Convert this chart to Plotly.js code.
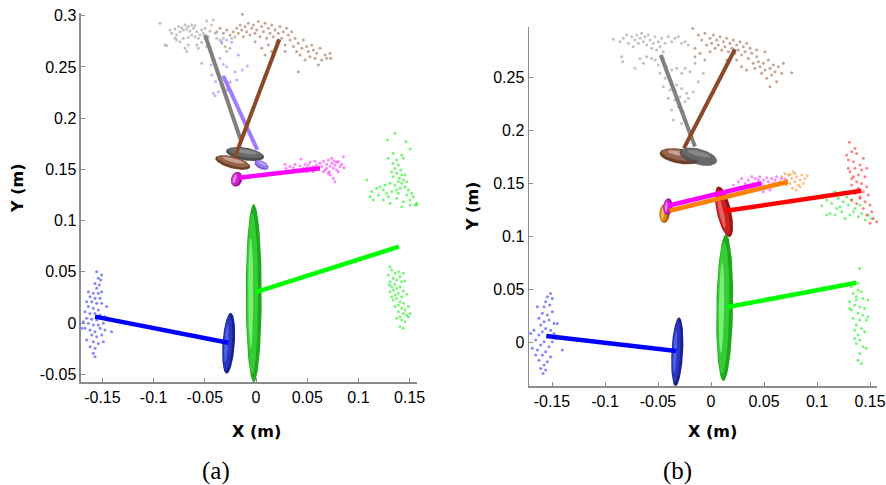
<!DOCTYPE html>
<html><head><meta charset="utf-8">
<script src="https://cdn.plot.ly/plotly-3.0.1.min.js"></script>
<style>html,body{margin:0;padding:0;background:#fff}</style>
</head><body><div id="chart" style="width:886px;height:485px"></div>
<script>
// ---------- DATA (metres) ----------
const xTickVals = [-0.15,-0.1,-0.05,0,0.05,0.1,0.15];
const xTickText = ['-0.15','-0.1','-0.05','0','0.05','0.1','0.15'];
const yTickValsA = [-0.05,0,0.05,0.1,0.15,0.2,0.25,0.3];
const yTickTextA = ['-0.05','0','0.05','0.1','0.15','0.2','0.25','0.3'];
const yTickValsB = [0,0.05,0.1,0.15,0.2,0.25];
const yTickTextB = ['0','0.05','0.1','0.15','0.2','0.25'];

// panel (a) point clouds [x, y]
const grayA = [[-0.0938,0.2926],[-0.0872,0.2708],[-0.0840,0.2861],[-0.0824,0.2829],[-0.0791,0.2871],[-0.0775,0.2813],[-0.0758,0.2894],[-0.0742,0.2845],[-0.0726,0.2884],[-0.0710,0.2861],[-0.0693,0.2910],[-0.0677,0.2871],[-0.0661,0.2894],[-0.0645,0.2852],[-0.0628,0.2910],[-0.0612,0.2878],[-0.0596,0.2904],[-0.0579,0.2845],[-0.0563,0.2780],[-0.0547,0.2813],[-0.0531,0.2861],[-0.0514,0.2829],[-0.0498,0.2878],[-0.0482,0.2949],[-0.0465,0.2796],[-0.0449,0.2852],[-0.0433,0.2910],[-0.0417,0.2959],[-0.0400,0.2829],[-0.0710,0.2780],[-0.0693,0.2682],[-0.0677,0.2650],[-0.0661,0.2715],[-0.0742,0.2747],[-0.0775,0.2764],[-0.0579,0.2715],[-0.0563,0.2682],[-0.0531,0.2741],[-0.0498,0.2780],[-0.0482,0.2699],[-0.0384,0.2780],[-0.0352,0.2764],[-0.0335,0.2731],[-0.0303,0.2699],[-0.0286,0.2650],[-0.0238,0.2780],[-0.0205,0.2796],[-0.0254,0.2682],[-0.0319,0.2780],[-0.0628,0.2813],[-0.0596,0.2796],[-0.0661,0.2787],[-0.0531,0.2536],[-0.0791,0.2780],[-0.0889,0.2715]];
const brownA = [[-0.0384,0.2845],[-0.0352,0.2878],[-0.0319,0.2829],[-0.0286,0.2861],[-0.0254,0.2813],[-0.0221,0.2845],[-0.0189,0.2878],[-0.0173,0.2829],[-0.0156,0.2910],[-0.0140,0.2861],[-0.0124,0.2796],[-0.0107,0.2894],[-0.0091,0.2845],[-0.0075,0.2926],[-0.0059,0.2813],[-0.0042,0.2878],[-0.0026,0.2910],[-0.0010,0.2829],[0.0007,0.2861],[0.0023,0.2943],[0.0039,0.2796],[0.0055,0.2894],[0.0072,0.2845],[0.0088,0.2926],[0.0104,0.2780],[0.0120,0.2878],[0.0137,0.2829],[0.0153,0.2910],[0.0169,0.2796],[0.0186,0.2861],[0.0202,0.2747],[0.0218,0.2829],[0.0234,0.2894],[0.0251,0.2780],[0.0267,0.2845],[0.0283,0.2715],[0.0299,0.2878],[0.0316,0.2813],[0.0332,0.2764],[0.0348,0.2845],[0.0365,0.2699],[0.0381,0.2780],[0.0397,0.2650],[0.0413,0.2731],[0.0430,0.2617],[0.0446,0.2682],[0.0462,0.2764],[0.0479,0.2568],[0.0495,0.2699],[0.0511,0.2650],[0.0527,0.2601],[0.0544,0.2715],[0.0560,0.2666],[0.0576,0.2585],[0.0592,0.2633],[0.0609,0.2520],[0.0625,0.2682],[0.0641,0.2568],[0.0674,0.2617],[0.0690,0.2585],[0.0723,0.2633],[0.0729,0.2585],[-0.0133,0.3015],[0.0055,0.2682],[0.0120,0.2715],[0.0088,0.2617],[-0.0010,0.2747],[0.0153,0.2650],[0.0413,0.2454],[0.0283,0.2650]];
const purpleA = [[-0.0335,0.2747],[-0.0286,0.2764],[-0.0238,0.2741],[-0.0417,0.2568],[-0.0352,0.2585],[-0.0319,0.2526],[-0.0286,0.2503],[-0.0205,0.2454],[-0.0133,0.2471],[-0.0085,0.2510],[-0.0433,0.2422],[-0.0394,0.2357],[-0.0335,0.2318],[-0.0286,0.2275],[-0.0254,0.2350],[-0.0189,0.2373],[-0.0417,0.2243],[-0.0368,0.2259],[-0.0231,0.2233],[-0.0319,0.2406],[-0.0384,0.2471],[-0.0439,0.2520],[-0.0173,0.2617],[-0.0400,0.2220]];
const magentaA = [[0.0283,0.1549],[0.0293,0.1510],[0.0332,0.1527],[0.0365,0.1517],[0.0381,0.1549],[0.0397,0.1494],[0.0430,0.1536],[0.0439,0.1602],[0.0462,0.1510],[0.0479,0.1549],[0.0495,0.1517],[0.0511,0.1543],[0.0527,0.1569],[0.0544,0.1494],[0.0560,0.1527],[0.0576,0.1582],[0.0592,0.1543],[0.0609,0.1510],[0.0625,0.1559],[0.0641,0.1527],[0.0658,0.1576],[0.0674,0.1494],[0.0690,0.1549],[0.0706,0.1592],[0.0716,0.1478],[0.0723,0.1527],[0.0739,0.1559],[0.0755,0.1510],[0.0762,0.1582],[0.0771,0.1543],[0.0788,0.1494],[0.0804,0.1576],[0.0820,0.1527],[0.0837,0.1549],[0.0853,0.1624],[0.0859,0.1517],[0.0723,0.1445],[0.0755,0.1413],[0.0771,0.1380],[0.0706,0.1462],[0.0658,0.1478],[0.0788,0.1569],[0.0739,0.1608],[0.0690,0.1510],[0.0804,0.1478],[0.0560,0.1478],[0.0446,0.1484],[0.0495,0.1478]];
const greenUpA = [[0.1357,0.1852],[0.1283,0.1787],[0.1465,0.1771],[0.1504,0.1699],[0.1341,0.1657],[0.1423,0.1641],[0.1292,0.1608],[0.1374,0.1592],[0.1439,0.1608],[0.1335,0.1559],[0.1390,0.1543],[0.1357,0.1510],[0.1413,0.1494],[0.1374,0.1462],[0.1423,0.1445],[0.1341,0.1429],[0.1400,0.1413],[0.1439,0.1396],[0.1390,0.1380],[0.1423,0.1364],[0.1357,0.1348],[0.1309,0.1364],[0.1471,0.1380],[0.1260,0.1348],[0.1211,0.1331],[0.1178,0.1315],[0.1243,0.1299],[0.1130,0.1283],[0.1195,0.1250],[0.1276,0.1266],[0.1325,0.1283],[0.1374,0.1299],[0.1406,0.1315],[0.1455,0.1331],[0.1488,0.1299],[0.1520,0.1266],[0.1536,0.1234],[0.1569,0.1169],[0.1504,0.1201],[0.1439,0.1185],[0.1374,0.1217],[0.1309,0.1169],[0.1243,0.1201],[0.1146,0.1201],[0.1113,0.1234],[0.1081,0.1396],[0.1504,0.1152],[0.1553,0.1152],[0.1570,0.1152],[0.1471,0.1250],[0.1292,0.1234],[0.1423,0.1136],[0.1390,0.1266],[0.1455,0.1445],[0.1325,0.1478]];
const greenLowA = [[0.1309,0.0550],[0.1325,0.0518],[0.1292,0.0469],[0.1357,0.0485],[0.1390,0.0501],[0.1439,0.0485],[0.1341,0.0436],[0.1374,0.0420],[0.1406,0.0452],[0.1309,0.0404],[0.1357,0.0378],[0.1423,0.0404],[0.1455,0.0410],[0.1325,0.0355],[0.1374,0.0339],[0.1406,0.0355],[0.1341,0.0322],[0.1439,0.0313],[0.1390,0.0290],[0.1309,0.0306],[0.1357,0.0273],[0.1423,0.0257],[0.1471,0.0280],[0.1374,0.0241],[0.1341,0.0225],[0.1406,0.0208],[0.1439,0.0192],[0.1390,0.0176],[0.1357,0.0160],[0.1423,0.0143],[0.1455,0.0127],[0.1488,0.0160],[0.1390,0.0111],[0.1439,0.0094],[0.1406,0.0062],[0.1471,0.0078],[0.1374,0.0046],[0.1423,0.0029],[0.1455,0.0013],[0.1406,-0.0036],[0.1439,-0.0052],[0.1488,0.0062],[0.1504,0.0094],[0.1325,0.0257],[0.1302,0.0371]];
const blueA = [[-0.1556,0.0501],[-0.1507,0.0469],[-0.1540,0.0436],[-0.1517,0.0420],[-0.1572,0.0387],[-0.1530,0.0371],[-0.1556,0.0339],[-0.1637,0.0306],[-0.1589,0.0290],[-0.1540,0.0290],[-0.1507,0.0306],[-0.1621,0.0257],[-0.1572,0.0241],[-0.1523,0.0241],[-0.1654,0.0208],[-0.1605,0.0208],[-0.1556,0.0192],[-0.1507,0.0192],[-0.1458,0.0160],[-0.1637,0.0160],[-0.1589,0.0143],[-0.1540,0.0127],[-0.1670,0.0111],[-0.1621,0.0094],[-0.1572,0.0094],[-0.1523,0.0078],[-0.1475,0.0062],[-0.1654,0.0046],[-0.1605,0.0036],[-0.1556,0.0029],[-0.1442,0.0029],[-0.1686,0.0013],[-0.1637,-0.0003],[-0.1589,-0.0020],[-0.1540,-0.0020],[-0.1491,-0.0003],[-0.1410,-0.0085],[-0.1670,-0.0052],[-0.1621,-0.0068],[-0.1572,-0.0085],[-0.1523,-0.0052],[-0.1475,-0.0068],[-0.1605,-0.0117],[-0.1556,-0.0133],[-0.1507,-0.0117],[-0.1654,-0.0166],[-0.1589,-0.0182],[-0.1540,-0.0199],[-0.1621,-0.0231],[-0.1572,-0.0247],[-0.1589,-0.0296],[-0.1572,-0.0329],[-0.1491,-0.0182],[-0.1702,-0.0052]];

// panel (b) point clouds [x, y]
const grayB = [[-0.0921,0.2862],[-0.0858,0.2840],[-0.0827,0.2871],[-0.0796,0.2903],[-0.0780,0.2824],[-0.0748,0.2887],[-0.0733,0.2792],[-0.0717,0.2855],[-0.0701,0.2903],[-0.0686,0.2824],[-0.0670,0.2871],[-0.0654,0.2918],[-0.0638,0.2840],[-0.0623,0.2887],[-0.0607,0.2808],[-0.0591,0.2903],[-0.0575,0.2855],[-0.0560,0.2777],[-0.0544,0.2824],[-0.0528,0.2887],[-0.0513,0.2761],[-0.0497,0.2840],[-0.0481,0.2792],[-0.0465,0.2871],[-0.0450,0.2745],[-0.0434,0.2824],[-0.0403,0.2887],[-0.0371,0.2840],[-0.0340,0.2871],[-0.0308,0.2887],[-0.0277,0.2824],[-0.0245,0.2840],[-0.0214,0.2808],[-0.0843,0.2698],[-0.0833,0.2651],[-0.0717,0.2588],[-0.0670,0.2682],[-0.0607,0.2698],[-0.0560,0.2682],[-0.0638,0.2635],[-0.0528,0.2667],[-0.0497,0.2619],[-0.0450,0.2682],[-0.0418,0.2604],[-0.0481,0.2541],[-0.0434,0.2494],[-0.0371,0.2572],[-0.0324,0.2588],[-0.0277,0.2541],[-0.0245,0.2588],[-0.0198,0.2557],[-0.0151,0.2635],[-0.0072,0.2541],[-0.0450,0.2415],[-0.0387,0.2384],[-0.0324,0.2431],[-0.0277,0.2399],[-0.0230,0.2352],[-0.0167,0.2368],[-0.0119,0.2462],[-0.0403,0.2305],[-0.0340,0.2289],[-0.0292,0.2321],[-0.0245,0.2274],[-0.0371,0.2195],[-0.0308,0.2226],[-0.0261,0.2179],[-0.0355,0.2101],[-0.0277,0.2069],[-0.0214,0.2305]];
const brownB = [[-0.0173,0.2965],[-0.0119,0.2903],[-0.0088,0.2855],[-0.0057,0.2918],[-0.0041,0.2808],[-0.0009,0.2871],[0.0006,0.2824],[0.0022,0.2903],[0.0038,0.2777],[0.0053,0.2855],[0.0069,0.2808],[0.0085,0.2887],[0.0101,0.2761],[0.0116,0.2840],[0.0132,0.2792],[0.0148,0.2871],[0.0164,0.2745],[0.0179,0.2824],[0.0195,0.2777],[0.0211,0.2855],[0.0226,0.2730],[0.0242,0.2808],[0.0258,0.2761],[0.0274,0.2840],[0.0289,0.2714],[0.0305,0.2792],[0.0321,0.2745],[0.0336,0.2824],[0.0352,0.2682],[0.0368,0.2777],[0.0384,0.2730],[0.0399,0.2635],[0.0415,0.2588],[0.0431,0.2698],[0.0447,0.2651],[0.0462,0.2604],[0.0478,0.2541],[0.0494,0.2635],[0.0509,0.2572],[0.0525,0.2494],[0.0541,0.2667],[0.0557,0.2588],[0.0572,0.2525],[0.0588,0.2619],[0.0604,0.2557],[0.0619,0.2462],[0.0635,0.2604],[0.0667,0.2541],[0.0682,0.2635],[0.0761,0.2547],[0.0557,0.2415],[-0.0151,0.2698],[-0.0104,0.2730],[-0.0151,0.2777],[-0.0057,0.2667],[-0.0009,0.2745],[0.0289,0.2604],[0.0242,0.2667],[0.0336,0.2572],[0.0509,0.2745],[0.0431,0.2761],[0.0148,0.2667]];
const magentaB = [[0.0211,0.1487],[0.0258,0.1519],[0.0289,0.1550],[0.0321,0.1503],[0.0352,0.1535],[0.0384,0.1566],[0.0399,0.1503],[0.0415,0.1550],[0.0431,0.1487],[0.0447,0.1535],[0.0462,0.1566],[0.0478,0.1503],[0.0494,0.1535],[0.0509,0.1472],[0.0525,0.1557],[0.0541,0.1519],[0.0557,0.1487],[0.0572,0.1550],[0.0588,0.1503],[0.0604,0.1535],[0.0619,0.1566],[0.0635,0.1487],[0.0651,0.1519],[0.0667,0.1550],[0.0682,0.1503],[0.0462,0.1456],[0.0399,0.1456],[0.0557,0.1440],[0.0494,0.1425],[0.0698,0.1544],[0.0368,0.1472],[0.0305,0.1456]];
const orangeB = [[0.0667,0.1566],[0.0698,0.1597],[0.0714,0.1535],[0.0730,0.1582],[0.0745,0.1503],[0.0761,0.1550],[0.0777,0.1613],[0.0792,0.1519],[0.0808,0.1566],[0.0824,0.1487],[0.0840,0.1535],[0.0855,0.1582],[0.0871,0.1503],[0.0887,0.1550],[0.0909,0.1575],[0.0770,0.1456],[0.0802,0.1440],[0.0840,0.1472],[0.0714,0.1487],[0.0745,0.1588],[0.0792,0.1597]];
const redB = [[0.1305,0.1890],[0.1358,0.1833],[0.1327,0.1802],[0.1280,0.1770],[0.1374,0.1786],[0.1296,0.1723],[0.1343,0.1708],[0.1437,0.1739],[0.1406,0.1676],[0.1358,0.1645],[0.1311,0.1613],[0.1421,0.1629],[0.1390,0.1582],[0.1343,0.1566],[0.1453,0.1566],[0.1374,0.1519],[0.1421,0.1503],[0.1327,0.1487],[0.1469,0.1472],[0.1390,0.1456],[0.1437,0.1425],[0.1358,0.1409],[0.1484,0.1393],[0.1406,0.1362],[0.1453,0.1330],[0.1374,0.1314],[0.1500,0.1299],[0.1437,0.1267],[0.1516,0.1236],[0.1469,0.1204],[0.1531,0.1173],[0.1563,0.1142],[0.1500,0.1126],[0.1406,0.1377],[0.1327,0.1346],[0.1296,0.1645],[0.1469,0.1645],[0.1327,0.1550]];
const greenUpB = [[0.1044,0.1292],[0.1091,0.1346],[0.1138,0.1314],[0.1170,0.1425],[0.1201,0.1362],[0.1217,0.1283],[0.1248,0.1330],[0.1280,0.1377],[0.1296,0.1299],[0.1327,0.1346],[0.1358,0.1267],[0.1123,0.1220],[0.1170,0.1204],[0.1233,0.1236],[0.1264,0.1173],[0.1311,0.1204],[0.1343,0.1236],[0.1390,0.1189],[0.1421,0.1220],[0.1453,0.1157],[0.1484,0.1204],[0.1516,0.1173],[0.1406,0.1299],[0.1091,0.1204],[0.1186,0.1267],[0.1233,0.1409]];
const greenLowB = [[0.1403,0.0701],[0.1324,0.0528],[0.1387,0.0497],[0.1340,0.0465],[0.1371,0.0434],[0.1434,0.0418],[0.1308,0.0387],[0.1355,0.0355],[0.1403,0.0340],[0.1481,0.0403],[0.1324,0.0308],[0.1387,0.0277],[0.1434,0.0261],[0.1340,0.0230],[0.1403,0.0214],[0.1465,0.0214],[0.1371,0.0167],[0.1418,0.0135],[0.1355,0.0119],[0.1450,0.0104],[0.1387,0.0072],[0.1403,0.0025],[0.1371,-0.0006],[0.1434,-0.0038],[0.1465,-0.0053],[0.1403,-0.0101],[0.1387,-0.0164],[0.1418,-0.0195],[0.1308,0.0324],[0.1481,0.0245],[0.1450,0.0324],[0.1371,0.0403],[0.1418,0.0481],[0.1387,0.0560],[0.1355,0.0041]];
const blueB = [[-0.1513,0.0465],[-0.1544,0.0434],[-0.1497,0.0418],[-0.1560,0.0387],[-0.1522,0.0355],[-0.1575,0.0340],[-0.1638,0.0340],[-0.1497,0.0292],[-0.1591,0.0277],[-0.1544,0.0261],[-0.1623,0.0230],[-0.1528,0.0214],[-0.1575,0.0198],[-0.1481,0.0182],[-0.1607,0.0167],[-0.1450,0.0182],[-0.1560,0.0135],[-0.1670,0.0119],[-0.1591,0.0104],[-0.1513,0.0119],[-0.1701,0.0088],[-0.1623,0.0072],[-0.1544,0.0057],[-0.1465,0.0041],[-0.1654,0.0025],[-0.1575,0.0009],[-0.1497,0.0009],[-0.1607,-0.0022],[-0.1528,-0.0038],[-0.1686,-0.0053],[-0.1638,-0.0069],[-0.1560,-0.0085],[-0.1403,-0.0069],[-0.1591,-0.0116],[-0.1513,-0.0132],[-0.1623,-0.0164],[-0.1544,-0.0179],[-0.1575,-0.0211],[-0.1607,-0.0242],[-0.1560,-0.0258],[-0.1585,-0.0289],[-0.1654,-0.0116],[-0.1481,0.0088]];

// segments: names, start (x0,y0), end (x1,y1)
const segA_names = ['gray','purple','brown','magenta','blue','green'];
const segA_x0 = [-0.0498,-0.0319, 0.0228,-0.0160,-0.1572,-0.0010];
const segA_y0 = [ 0.2813, 0.2412, 0.2770, 0.1418, 0.0062, 0.0300];
const segA_x1 = [-0.0149, 0.0013,-0.0205, 0.0625,-0.0270, 0.1396];
const segA_y1 = [ 0.1787, 0.1690, 0.1624, 0.1511,-0.0192, 0.0745];
const segB_names = ['gray','brown','orange','magenta','red','blue','green'];
const segB_x0 = [-0.0474, 0.0226,-0.0390,-0.0406, 0.0129,-0.1554, 0.0145];
const segB_y0 = [ 0.2714, 0.2768, 0.1245, 0.1292, 0.1242, 0.0063, 0.0334];
const segB_x1 = [-0.0151,-0.0255, 0.0726, 0.0475, 0.1418,-0.0327, 0.1371];
const segB_y1 = [ 0.1850, 0.1835, 0.1519, 0.1504, 0.1434,-0.0078, 0.0566];

// uncertainty ellipses: centre, semi-axes, orientation (deg)
const ellA_names = ['gray','purple','brown','magenta','blue','green'];
const ellA_cx = [-0.0107, 0.0054,-0.0227,-0.0189,-0.0267,-0.0022];
const ellA_cy = [ 0.1650, 0.1543, 0.1567, 0.1404,-0.0198, 0.0291];
const ellA_a  = [ 0.0188, 0.0073, 0.0176, 0.0074, 0.0298, 0.0870];
const ellA_b  = [ 0.0062, 0.0040, 0.0058, 0.0054, 0.0060, 0.0078];
const ellA_ang= [ -10, -25, -15, 75, 86, 90];
const ellB_names = ['brown','gray','orange','magenta','red','blue','green'];
const ellB_cx = [-0.0297,-0.0120,-0.0437,-0.0406, 0.0123,-0.0318, 0.0129];
const ellB_cy = [ 0.1759, 0.1755, 0.1221, 0.1283, 0.1236,-0.0085, 0.0330];
const ellB_a  = [ 0.0190, 0.0182, 0.0092, 0.0079, 0.0244, 0.0325, 0.0692];
const ellB_b  = [ 0.0070, 0.0075, 0.0050, 0.0044, 0.0068, 0.0055, 0.0079];
const ellB_ang= [ -10, -15, 85, 85, 102.7, 87, 89];

// ---------- STYLE ----------
const lineColor = {gray:'#808080', purple:'#a07cff', brown:'#8a4a2a', magenta:'#ff00ff', blue:'#0000ff', green:'#00ff00', red:'#ff0000', orange:'#ff8000'};
const ptColor = {gray:'#9a9a9a', purple:'#9a7cff', brown:'#a06a4a', magenta:'#ff33ff', blue:'#3535ff', green:'#22ee22', red:'#ff3030', orange:'#ff9933'};
const ellShade = {
  gray:['#4e4e4e','#6a6a6a','#8c8c8c'], purple:['#7a58d0','#9a7ced','#bca8ff'],
  brown:['#6e4028','#956550','#c9a290'], magenta:['#a0108f','#cc22cc','#f07af0'],
  blue:['#18208e','#2a36c0','#5060e0'], green:['#1ea81e','#36cc36','#78f078'],
  red:['#a01414','#c82424','#e86060'], orange:['#b0600c','#d8841c','#f4b860']
};

function ellipsePts(cx, cy, a, b, angDeg){
  const t = angDeg*Math.PI/180, c = Math.cos(t), s = Math.sin(t);
  const xs = [], ys = [];
  for (let i = 0; i <= 80; i++){
    const u = i/80*2*Math.PI, ex = a*Math.cos(u), ey = b*Math.sin(u);
    xs.push(cx + ex*c - ey*s); ys.push(cy + ex*s + ey*c);
  }
  return [xs, ys];
}
function shadedEllipse(name, cx, cy, a, b, ang, xa, ya, op){
  const t = ang*Math.PI/180, nx = -Math.sin(t), ny = Math.cos(t);
  const layers = [[1,1,0,0],[0.9,0.72,0.18,1],[0.62,0.32,0.38,2]];
  return layers.map(([ka,kb,off,ci]) => {
    const [xs, ys] = ellipsePts(cx + off*b*nx, cy + off*b*ny, a*ka, b*kb, ang);
    return {type:'scatter', mode:'lines', x:xs, y:ys, xaxis:xa, yaxis:ya, fill:'toself',
      fillcolor: ellShade[name][ci], line:{width:0, color:ellShade[name][ci]}, opacity: op||1,
      hoverinfo:'skip', cliponaxis:true};
  });
}
function cloud(pts, name, xa, ya){
  return {type:'scatter', mode:'markers', x:pts.map(p=>p[0]), y:pts.map(p=>p[1]), xaxis:xa, yaxis:ya,
    marker:{size:3, color:ptColor[name], opacity:0.6}, hoverinfo:'skip', cliponaxis:false};
}
function seg(x0,y0,x1,y1,name,xa,ya,w){
  return {type:'scatter', mode:'lines', x:[x0,x1], y:[y0,y1], xaxis:xa, yaxis:ya,
    line:{color:lineColor[name], width:w||4.5}, hoverinfo:'skip'};
}

const traces = [];
// panel (a)
[[grayA,'gray'],[brownA,'brown'],[purpleA,'purple'],[magentaA,'magenta'],[greenUpA,'green'],[greenLowA,'green'],[blueA,'blue']]
  .forEach(([p,n]) => traces.push(cloud(p,n,'x','y')));
ellA_names.forEach((n,i) => traces.push(...shadedEllipse(n, ellA_cx[i], ellA_cy[i], ellA_a[i], ellA_b[i], ellA_ang[i], 'x','y')));
segA_names.forEach((n,i) => traces.push(seg(segA_x0[i],segA_y0[i],segA_x1[i],segA_y1[i],n,'x','y', (n==='gray'||n==='brown'||n==='purple')?4:4.5)));
// panel (b)
[[grayB,'gray'],[brownB,'brown'],[magentaB,'magenta'],[orangeB,'orange'],[greenUpB,'green'],[redB,'red'],[greenLowB,'green'],[blueB,'blue']]
  .forEach(([p,n]) => traces.push(cloud(p,n,'x2','y2')));
ellB_names.forEach((n,i) => traces.push(...shadedEllipse(n, ellB_cx[i], ellB_cy[i], ellB_a[i], ellB_b[i], ellB_ang[i], 'x2','y2', n==='gray'?0.85:1)));
segB_names.forEach((n,i) => traces.push(seg(segB_x0[i],segB_y0[i],segB_x1[i],segB_y1[i],n,'x2','y2', (n==='gray'||n==='brown')?4:4.5)));

const tickFont = {family:'Liberation Sans, Arial, sans-serif', size:16, color:'#000'};
function axis(dom, rng, tv, tt, anchor){
  return {domain:dom, range:rng, tickvals:tv, ticktext:tt, anchor:anchor, showgrid:false, zeroline:false,
    showline:true, linecolor:'#8c8c8c', linewidth:1.5, ticks:'inside', ticklen:4, tickwidth:1, tickcolor:'#8c8c8c',
    tickfont:tickFont, fixedrange:true};
}
const titleFont = {family:'DejaVu Sans, sans-serif', size:16, color:'#000', weight:'bold'};
const capFont = {family:'Liberation Serif, Times New Roman, serif', size:25, color:'#000'};
const layout = {
  width:886, height:485, margin:{l:0,r:0,t:0,b:0}, paper_bgcolor:'#fff', plot_bgcolor:'#fff', showlegend:false,
  xaxis: axis([0.09142,0.47065], [-0.1709,0.1572], xTickVals, xTickText, 'y'),
  yaxis: axis([0.21237,0.97320], [-0.0576,0.3027], yTickValsA, yTickTextA, 'x'),
  xaxis2: axis([0.59707,0.98984], [-0.1717,0.1566], xTickVals, xTickText, 'y2'),
  yaxis2: axis([0.20412,0.94433], [-0.0408,0.2978], yTickValsB, yTickTextB, 'x2'),
  annotations:[
    {text:'X (m)', xref:'paper', yref:'paper', x:0.2895, y:0.1099, showarrow:false, font:titleFont, xanchor:'center', yanchor:'middle'},
    {text:'Y (m)', xref:'paper', yref:'paper', x:0.0203, y:0.6124, showarrow:false, font:titleFont, textangle:-90, xanchor:'center', yanchor:'middle'},
    {text:'X (m)', xref:'paper', yref:'paper', x:0.8047, y:0.1113, showarrow:false, font:titleFont, xanchor:'center', yanchor:'middle'},
    {text:'Y (m)', xref:'paper', yref:'paper', x:0.5339, y:0.5732, showarrow:false, font:titleFont, textangle:-90, xanchor:'center', yanchor:'middle'},
    {text:'(a)', xref:'paper', yref:'paper', x:0.2438, y:0.0289, showarrow:false, font:capFont, xanchor:'center', yanchor:'middle'},
    {text:'(b)', xref:'paper', yref:'paper', x:0.7652, y:0.0289, showarrow:false, font:capFont, xanchor:'center', yanchor:'middle'}
  ]
};
Plotly.newPlot('chart', traces, layout, {displayModeBar:false, staticPlot:true});
</script></body></html>
